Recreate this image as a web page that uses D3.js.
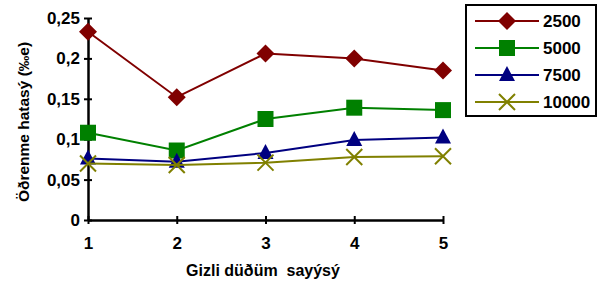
<!DOCTYPE html>
<html>
<head>
<meta charset="utf-8">
<script src="https://cdn.jsdelivr.net/npm/d3@7"></script>
<style>
  body { margin: 0; background: #fff; }
  text { font-family: "Liberation Sans", Arial, sans-serif; font-weight: bold; }
</style>
</head>
<body>
<div id="chart"></div>
<script>
(function() {
  var nodes = [1, 2, 3, 4, 5]
  var seriesNames = ['2500', '5000', '7500', '10000']
  var s2500 = [0.233, 0.152, 0.206, 0.200, 0.185]
  var s5000 = [0.108, 0.086, 0.125, 0.139, 0.136]
  var s7500 = [0.076, 0.072, 0.083, 0.099, 0.102]
  var s10000 = [0.070, 0.068, 0.071, 0.078, 0.079]
  var yTicks = [0, 0.05, 0.1, 0.15, 0.2, 0.25]
  var yTickLabels = ['0', '0,05', '0,1', '0,15', '0,2', '0,25']

  var colors = ['#800000', '#008000', '#000080', '#808000']
  var symbols = ['diamond', 'square', 'triangle', 'cross']
  var allSeries = [s2500, s5000, s7500, s10000]

  var svg = d3.select('#chart')
    .append('svg')
    .attr('width', 608)
    .attr('height', 291)

  var xPositionScale = d3.scaleLinear().domain([1, 5]).range([88, 443])
  var yPositionScale = d3.scaleLinear().domain([0, 0.25]).range([220, 18])

  // Axes
  var yAxis = d3.axisLeft(yPositionScale)
    .tickValues(yTicks)
    .tickFormat((d, i) => yTickLabels[i])
    .tickSize(4)
    .tickSizeOuter(0)
  var yG = svg.append('g')
    .attr('transform', 'translate(88,0)')
    .call(yAxis)
  yG.selectAll('.tick line').attr('x2', 4).attr('x1', -4).attr('stroke-width', 2)
  yG.select('.domain').attr('stroke-width', 2.5)
  yG.selectAll('text').attr('x', -8).attr('font-size', 17).attr('fill', '#000')
    .attr('font-family', '"Liberation Sans", Arial, sans-serif')

  var xAxis = d3.axisBottom(xPositionScale)
    .tickValues(nodes)
    .tickFormat(d => d)
    .tickSize(4)
    .tickSizeOuter(0)
  var xG = svg.append('g')
    .attr('transform', 'translate(0,220)')
    .call(xAxis)
  xG.selectAll('.tick line').attr('y1', -4).attr('y2', 4).attr('stroke-width', 2)
  xG.select('.domain').attr('stroke-width', 2.5)
  xG.selectAll('text').attr('y', 17).attr('font-size', 17).attr('fill', '#000')
    .attr('font-family', '"Liberation Sans", Arial, sans-serif')

  // Titles
  svg.append('text')
    .text('Öðrenme hatasý (‰e)')
    .attr('text-anchor', 'middle')
    .attr('transform', 'translate(29,122) rotate(-90)')
    .attr('font-size', 15.5)

  svg.append('text')
    .text('Gizli düðüm  sayýsý')
    .attr('text-anchor', 'middle')
    .attr('x', 263)
    .attr('y', 276)
    .attr('font-size', 16)
    .style('white-space', 'pre')

  var line = d3.line()
    .x((d, i) => xPositionScale(nodes[i]))
    .y(d => yPositionScale(d))

  function drawMarker(g, type, color, x, y) {
    if (type === 'diamond') {
      g.append('path')
        .attr('d', `M${x},${y - 9}L${x + 9},${y}L${x},${y + 9}L${x - 9},${y}Z`)
        .attr('fill', color)
    } else if (type === 'square') {
      g.append('rect')
        .attr('x', x - 8).attr('y', y - 8)
        .attr('width', 16).attr('height', 16)
        .attr('fill', color)
    } else if (type === 'triangle') {
      g.append('path')
        .attr('d', `M${x},${y - 9}L${x + 8},${y + 6}L${x - 8},${y + 6}Z`)
        .attr('fill', color)
    } else {
      g.append('path')
        .attr('d', `M${x - 8},${y - 8}L${x + 8},${y + 8}M${x + 8},${y - 8}L${x - 8},${y + 8}`)
        .attr('stroke', color)
        .attr('stroke-width', 2)
        .attr('fill', 'none')
    }
  }

  allSeries.forEach((values, k) => {
    var g = svg.append('g')
    g.append('path')
      .attr('d', line(values))
      .attr('fill', 'none')
      .attr('stroke', colors[k])
      .attr('stroke-width', 2)
    values.forEach((v, i) => {
      drawMarker(g, symbols[k], colors[k], xPositionScale(nodes[i]), yPositionScale(v))
    })
  })

  // Legend
  var legend = svg.append('g')
  legend.append('rect')
    .attr('x', 466).attr('y', 5)
    .attr('width', 130).attr('height', 111)
    .attr('fill', '#fff')
    .attr('stroke', '#000')
    .attr('stroke-width', 2)

  seriesNames.forEach((name, k) => {
    var y = 21 + k * 27
    legend.append('line')
      .attr('x1', 475).attr('x2', 539)
      .attr('y1', y).attr('y2', y)
      .attr('stroke', colors[k])
      .attr('stroke-width', 2)
    drawMarker(legend, symbols[k], colors[k], 507, y)
    legend.append('text')
      .text(name)
      .attr('x', 543)
      .attr('y', y + 6)
      .attr('font-size', 17)
  })
})()
</script>
</body>
</html>
